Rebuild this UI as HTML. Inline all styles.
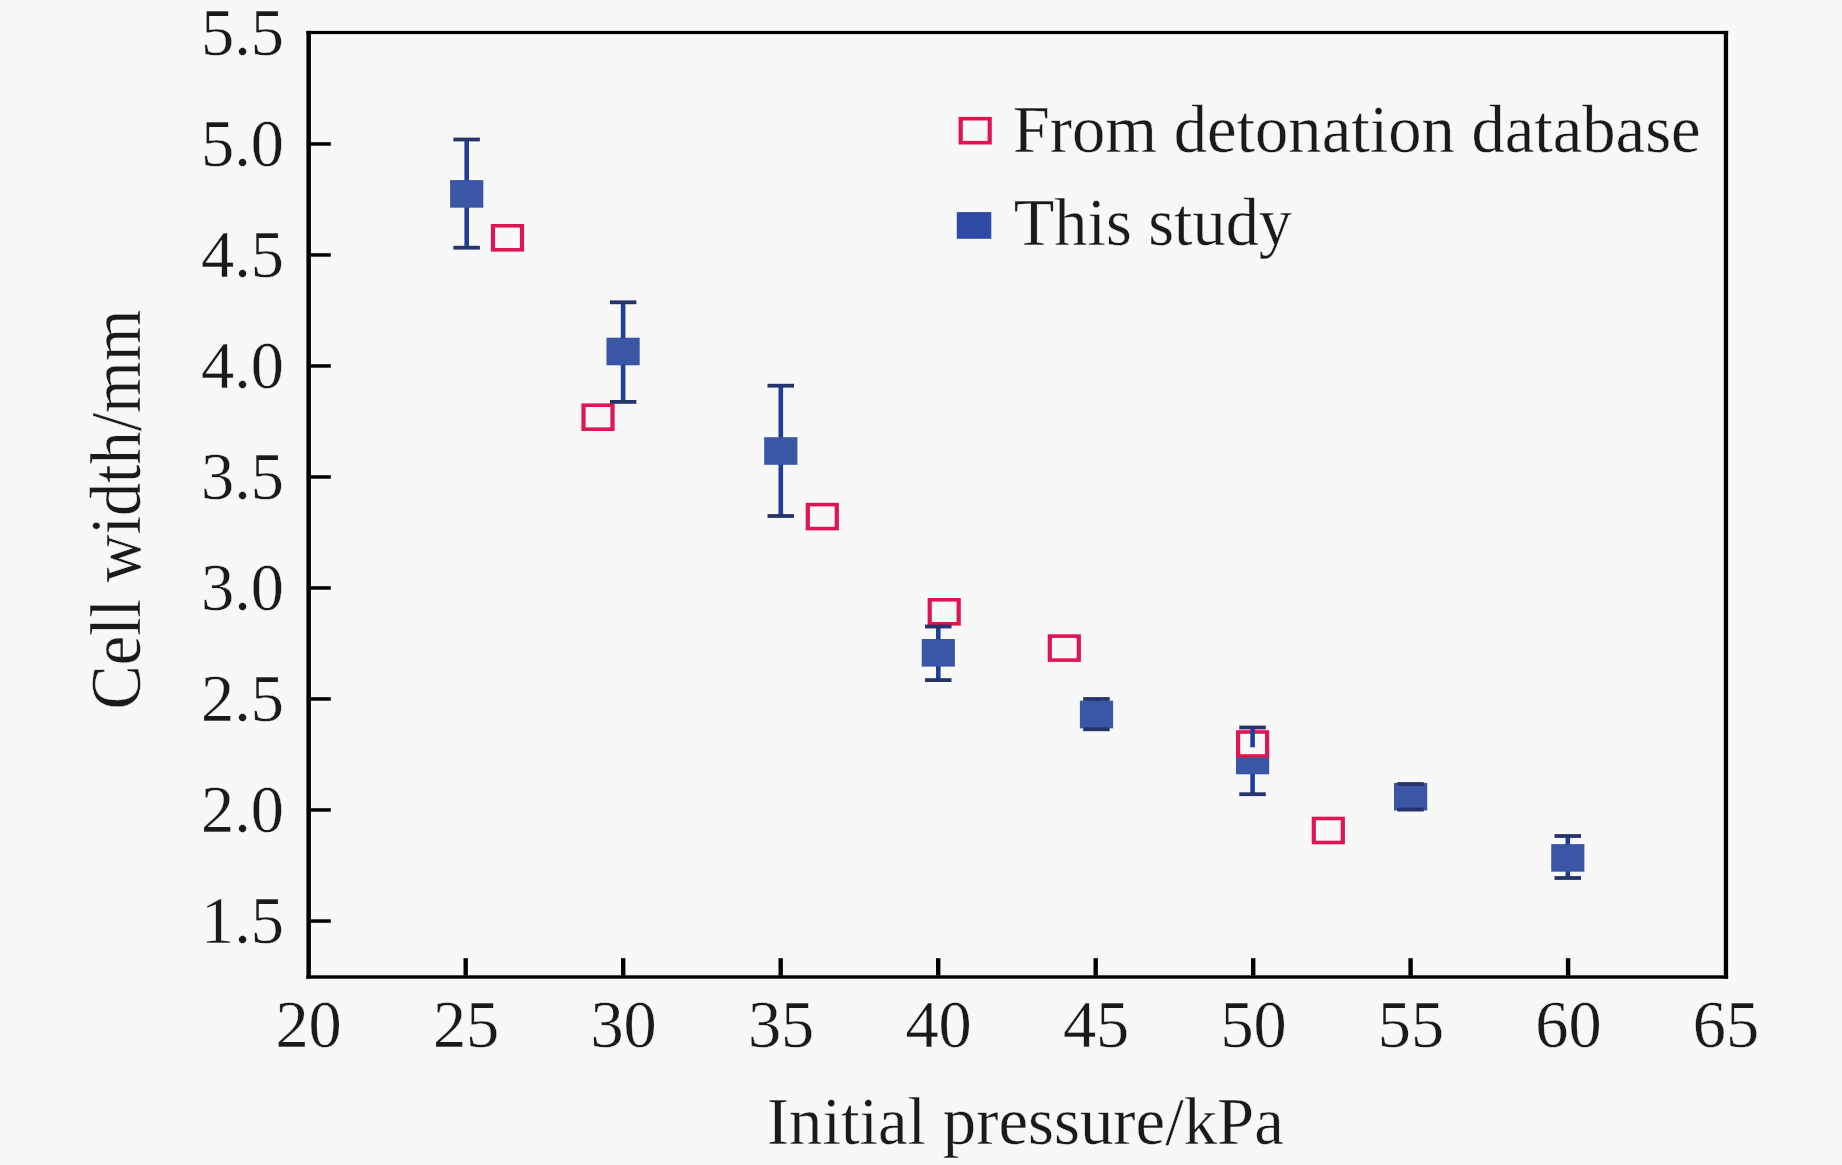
<!DOCTYPE html>
<html lang="en"><head><meta charset="utf-8"><title>Cell width vs initial pressure</title>
<style>html,body{margin:0;padding:0;background:#f8f8f8;overflow:hidden}svg{display:block}text{font-family:"Liberation Serif",serif;font-size:67px;fill:#1a1a1a;stroke:#f8f8f8;stroke-width:0.35px}</style>
</head><body>
<svg width="1842" height="1165" viewBox="0 0 1842 1165">
<rect x="0" y="0" width="1842" height="1165" fill="#f8f8f8"/>
<g fill="#000000">
<rect x="306.4" y="30.9" width="4.5" height="947.8"/>
<rect x="1723.8" y="30.9" width="4.3" height="947.8"/>
<rect x="306.4" y="30.9" width="1421.7" height="3.2"/>
<rect x="306.4" y="975.3" width="1421.7" height="3.4"/>
<rect x="310.5" y="919.3" width="20.3" height="3.5"/>
<rect x="310.5" y="808.2" width="20.3" height="3.5"/>
<rect x="310.5" y="697.2" width="20.3" height="3.5"/>
<rect x="310.5" y="586.2" width="20.3" height="3.5"/>
<rect x="310.5" y="475.2" width="20.3" height="3.5"/>
<rect x="310.5" y="364.2" width="20.3" height="3.5"/>
<rect x="310.5" y="253.2" width="20.3" height="3.5"/>
<rect x="310.5" y="142.2" width="20.3" height="3.5"/>
<rect x="463.5" y="958.2" width="4.4" height="17.5"/>
<rect x="621.0" y="958.2" width="4.4" height="17.5"/>
<rect x="778.5" y="958.2" width="4.4" height="17.5"/>
<rect x="936.0" y="958.2" width="4.4" height="17.5"/>
<rect x="1093.5" y="958.2" width="4.4" height="17.5"/>
<rect x="1251.0" y="958.2" width="4.4" height="17.5"/>
<rect x="1408.4" y="958.2" width="4.4" height="17.5"/>
<rect x="1565.9" y="958.2" width="4.4" height="17.5"/>
</g>
<text transform="translate(284.0 943.0) scale(0.99 1)" text-anchor="end">1.5</text>
<text transform="translate(284.0 832.0) scale(0.99 1)" text-anchor="end">2.0</text>
<text transform="translate(284.0 721.0) scale(0.99 1)" text-anchor="end">2.5</text>
<text transform="translate(284.0 610.0) scale(0.99 1)" text-anchor="end">3.0</text>
<text transform="translate(284.0 498.9) scale(0.99 1)" text-anchor="end">3.5</text>
<text transform="translate(284.0 387.9) scale(0.99 1)" text-anchor="end">4.0</text>
<text transform="translate(284.0 276.9) scale(0.99 1)" text-anchor="end">4.5</text>
<text transform="translate(284.0 165.9) scale(0.99 1)" text-anchor="end">5.0</text>
<text transform="translate(284.0 54.9) scale(0.99 1)" text-anchor="end">5.5</text>
<text transform="translate(308.6 1047.0) scale(0.99 1)" text-anchor="middle">20</text>
<text transform="translate(466.1 1047.0) scale(0.99 1)" text-anchor="middle">25</text>
<text transform="translate(623.6 1047.0) scale(0.99 1)" text-anchor="middle">30</text>
<text transform="translate(781.1 1047.0) scale(0.99 1)" text-anchor="middle">35</text>
<text transform="translate(938.6 1047.0) scale(0.99 1)" text-anchor="middle">40</text>
<text transform="translate(1096.1 1047.0) scale(0.99 1)" text-anchor="middle">45</text>
<text transform="translate(1253.6 1047.0) scale(0.99 1)" text-anchor="middle">50</text>
<text transform="translate(1411.0 1047.0) scale(0.99 1)" text-anchor="middle">55</text>
<text transform="translate(1568.5 1047.0) scale(0.99 1)" text-anchor="middle">60</text>
<text transform="translate(1726.0 1047.0) scale(0.99 1)" text-anchor="middle">65</text>
<text transform="translate(1025.3 1143.6) scale(0.996 1)" text-anchor="middle">Initial pressure/kPa</text>
<text transform="translate(140.3 509.6) rotate(-90) scale(0.99 1.065)" text-anchor="middle">Cell width/mm</text>
<g fill="#3a57a6">
<rect x="450.1" y="180.1" width="33.2" height="27.6"/>
<rect x="606.5" y="337.7" width="33.2" height="27.6"/>
<rect x="764.2" y="437.2" width="33.2" height="27.6"/>
<rect x="921.7" y="639.0" width="33.2" height="27.6"/>
<rect x="1079.9" y="700.7" width="33.2" height="27.6"/>
<rect x="1236.0" y="746.7" width="33.2" height="27.6"/>
<rect x="1394.0" y="782.9" width="33.2" height="27.6"/>
<rect x="1551.2" y="844.1" width="33.2" height="27.6"/>
</g>
<rect x="490.9" y="224.0" width="33.2" height="27.6" fill="#dc1652"/>
<rect x="495.1" y="227.6" width="24.8" height="20.4" fill="#f8f8f8"/>
<rect x="581.4" y="403.4" width="33.2" height="27.6" fill="#dc1652"/>
<rect x="585.6" y="407.0" width="24.8" height="20.4" fill="#f8f8f8"/>
<rect x="805.7" y="502.8" width="33.2" height="27.6" fill="#dc1652"/>
<rect x="809.9" y="506.4" width="24.8" height="20.4" fill="#f8f8f8"/>
<rect x="927.6" y="598.0" width="33.2" height="27.6" fill="#dc1652"/>
<rect x="931.8" y="601.6" width="24.8" height="20.4" fill="#f8f8f8"/>
<rect x="1047.7" y="634.3" width="33.2" height="27.6" fill="#dc1652"/>
<rect x="1051.9" y="637.9" width="24.8" height="20.4" fill="#f8f8f8"/>
<rect x="1236.0" y="730.2" width="33.2" height="27.6" fill="#dc1652"/>
<rect x="1240.2" y="733.8" width="24.8" height="20.4" fill="#f8f8f8"/>
<rect x="1311.7" y="816.7" width="33.2" height="27.6" fill="#dc1652"/>
<rect x="1315.9" y="820.3" width="24.8" height="20.4" fill="#f8f8f8"/>
<rect x="464.4" y="139.5" width="4.6" height="41.1" fill="#1d3f97"/>
<rect x="464.4" y="207.2" width="4.6" height="40.5" fill="#1d3f97"/>
<rect x="453.4" y="137.6" width="26.5" height="3.8" fill="#27346b"/>
<rect x="453.4" y="245.8" width="26.5" height="3.8" fill="#27346b"/>
<rect x="620.8" y="302.3" width="4.6" height="35.9" fill="#1d3f97"/>
<rect x="620.8" y="364.8" width="4.6" height="37.1" fill="#1d3f97"/>
<rect x="609.9" y="300.4" width="26.5" height="3.8" fill="#27346b"/>
<rect x="609.9" y="400.0" width="26.5" height="3.8" fill="#27346b"/>
<rect x="778.5" y="385.7" width="4.6" height="52.0" fill="#1d3f97"/>
<rect x="778.5" y="464.3" width="4.6" height="51.7" fill="#1d3f97"/>
<rect x="767.5" y="383.8" width="26.5" height="3.8" fill="#27346b"/>
<rect x="767.5" y="514.1" width="26.5" height="3.8" fill="#27346b"/>
<rect x="936.0" y="626.5" width="4.6" height="13.0" fill="#1d3f97"/>
<rect x="936.0" y="666.1" width="4.6" height="14.0" fill="#1d3f97"/>
<rect x="925.0" y="624.6" width="26.5" height="3.8" fill="#27346b"/>
<rect x="925.0" y="678.2" width="26.5" height="3.8" fill="#27346b"/>
<rect x="1094.2" y="699.0" width="4.6" height="2.2" fill="#1d3f97"/>
<rect x="1094.2" y="727.8" width="4.6" height="1.5" fill="#1d3f97"/>
<rect x="1083.2" y="697.1" width="26.5" height="3.8" fill="#27346b"/>
<rect x="1083.2" y="727.4" width="26.5" height="3.8" fill="#27346b"/>
<rect x="1250.3" y="727.5" width="4.6" height="19.7" fill="#1d3f97"/>
<rect x="1250.3" y="773.8" width="4.6" height="20.4" fill="#1d3f97"/>
<rect x="1239.3" y="725.6" width="26.5" height="3.8" fill="#27346b"/>
<rect x="1239.3" y="792.3" width="26.5" height="3.8" fill="#27346b"/>
<rect x="1397.3" y="782.1" width="26.5" height="3.8" fill="#27346b"/>
<rect x="1397.3" y="807.7" width="26.5" height="3.8" fill="#27346b"/>
<rect x="1565.5" y="836.0" width="4.6" height="8.6" fill="#1d3f97"/>
<rect x="1565.5" y="871.2" width="4.6" height="6.8" fill="#1d3f97"/>
<rect x="1554.5" y="834.1" width="26.5" height="3.8" fill="#27346b"/>
<rect x="1554.5" y="876.1" width="26.5" height="3.8" fill="#27346b"/>
<rect x="958.6" y="116.9" width="33.2" height="27.6" fill="#dc1652"/>
<rect x="962.8" y="120.5" width="24.8" height="20.4" fill="#f8f8f8"/>
<rect x="956.8" y="212.1" width="34.5" height="26.7" fill="#2f4aa2"/>
<text transform="translate(1012.8 151.6) scale(0.994 1)">From detonation database</text>
<text transform="translate(1013.8 245.0) scale(0.99 1)" text-anchor="start">This study</text>
</svg></body></html>
